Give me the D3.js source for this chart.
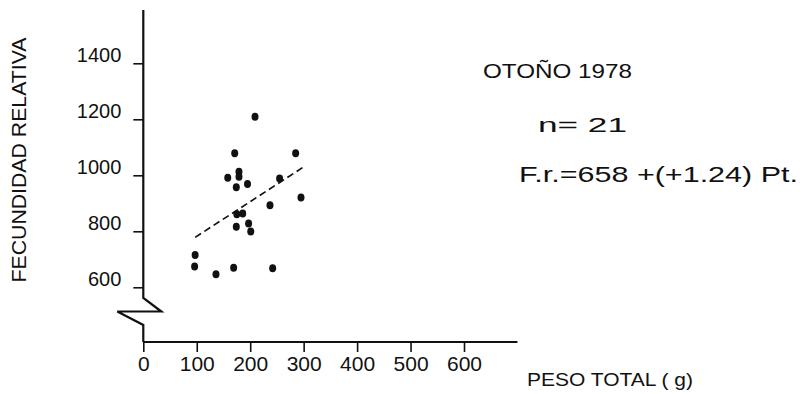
<!DOCTYPE html>
<html>
<head>
<meta charset="utf-8">
<script src="https://cdn.jsdelivr.net/npm/d3@7"></script>
<style>
  body { margin: 0; background: #fff; }
  svg { display: block; }
  text { font-family: "Liberation Sans", Arial, sans-serif; fill: #111; }
  .axis .domain { display: none; }
  .axis line { stroke: #111; stroke-width: 1.6; }
  .axis text { font-size: 20px; }
  .axis--x text { font-size: 21px; }
</style>
</head>
<body>
<div id="chart"></div>
<script>
'use strict';
// Data
var pesoTotal  = [209, 171, 285, 158, 179, 179, 195, 174, 255, 295, 237, 175, 186, 174, 197, 201,  97,  96, 136, 169, 242];
var fecundidad = [1209, 1079, 1079, 991, 1013, 995, 969, 957, 989, 921, 893, 861, 864, 816, 828, 799, 715, 674, 647, 670, 668];

var xTicks = [0, 100, 200, 300, 400, 500, 600];
var yTicks = [600, 800, 1000, 1200, 1400];

// Regression F.r. = 658 + 1.24 Pt
var regA = 658, regB = 1.24;
var regRange = [97, 300];

var w = 802, h = 394;

var x = d3.scaleLinear().domain([0, 600]).range([143.3, 464]);
var y = d3.scaleLinear().domain([600, 1400]).range([287.3, 63.3]);
var xAxisY = 342;

var svg = d3.select("#chart").append("svg")
  .attr("width", w)
  .attr("height", h);

// Y axis line with the break
var breakTop = 298;
svg.append("path")
  .attr("d", d3.line()([
    [x(0), y(1590)], [x(0), breakTop],
    [x(0) + 18, breakTop + 13.5], [x(0) - 26, breakTop + 13.5],
    [x(0), breakTop + 27], [x(0), xAxisY]
  ]))
  .attr("fill", "none")
  .attr("stroke", "#111")
  .attr("stroke-width", 2.2)
  .attr("stroke-linejoin", "miter");

// X axis line
svg.append("line")
  .attr("x1", x(0)).attr("x2", x(700))
  .attr("y1", xAxisY).attr("y2", xAxisY)
  .attr("stroke", "#111")
  .attr("stroke-width", 2.2);

// Y ticks
var yAxis = d3.axisLeft(y).tickValues(yTicks).tickSize(10).tickPadding(12).tickFormat(d3.format("d"));
var gy = svg.append("g")
  .attr("class", "axis")
  .attr("transform", "translate(" + x(0) + ",0)")
  .call(yAxis);
gy.selectAll("text").attr("dy", "-0.1em");

// X ticks
var xAxis = d3.axisBottom(x).tickValues(xTicks).tickSize(10).tickPadding(4).tickFormat(d3.format("d"));
svg.append("g")
  .attr("class", "axis axis--x")
  .attr("transform", "translate(0," + xAxisY + ")")
  .call(xAxis);

// Regression line
svg.append("line")
  .attr("x1", x(regRange[0])).attr("y1", y(regA + regB * regRange[0]))
  .attr("x2", x(regRange[1])).attr("y2", y(regA + regB * regRange[1]))
  .attr("stroke", "#111")
  .attr("stroke-width", 1.7)
  .attr("stroke-dasharray", "7,4");

// Points
svg.append("g")
  .selectAll("ellipse")
  .data(pesoTotal)
  .enter()
  .append("ellipse")
  .attr("cx", function(d) { return x(d); })
  .attr("cy", function(d, i) { return y(fecundidad[i]); })
  .attr("rx", 3.5)
  .attr("ry", 4)
  .attr("fill", "#111");

// Labels
svg.append("text")
  .attr("transform", "translate(26,160) rotate(-90)")
  .attr("text-anchor", "middle")
  .attr("font-size", 20)
  .attr("textLength", 245)
  .attr("lengthAdjust", "spacingAndGlyphs")
  .text("FECUNDIDAD  RELATIVA");

svg.append("text")
  .attr("x", 527).attr("y", 386)
  .attr("font-size", 18)
  .attr("textLength", 166)
  .attr("lengthAdjust", "spacingAndGlyphs")
  .text("PESO  TOTAL ( g)");

svg.append("text")
  .attr("x", 483).attr("y", 78)
  .attr("font-size", 20)
  .attr("textLength", 149)
  .attr("lengthAdjust", "spacingAndGlyphs")
  .text("OTOÑO 1978");

svg.append("text")
  .attr("x", 538).attr("y", 132)
  .attr("font-size", 20)
  .attr("textLength", 89)
  .attr("lengthAdjust", "spacingAndGlyphs")
  .text("n=  21");

svg.append("text")
  .attr("x", 519).attr("y", 182)
  .attr("font-size", 22)
  .attr("textLength", 279)
  .attr("lengthAdjust", "spacingAndGlyphs")
  .text("F.r.=658 +(+1.24) Pt.");
</script>
</body>
</html>
